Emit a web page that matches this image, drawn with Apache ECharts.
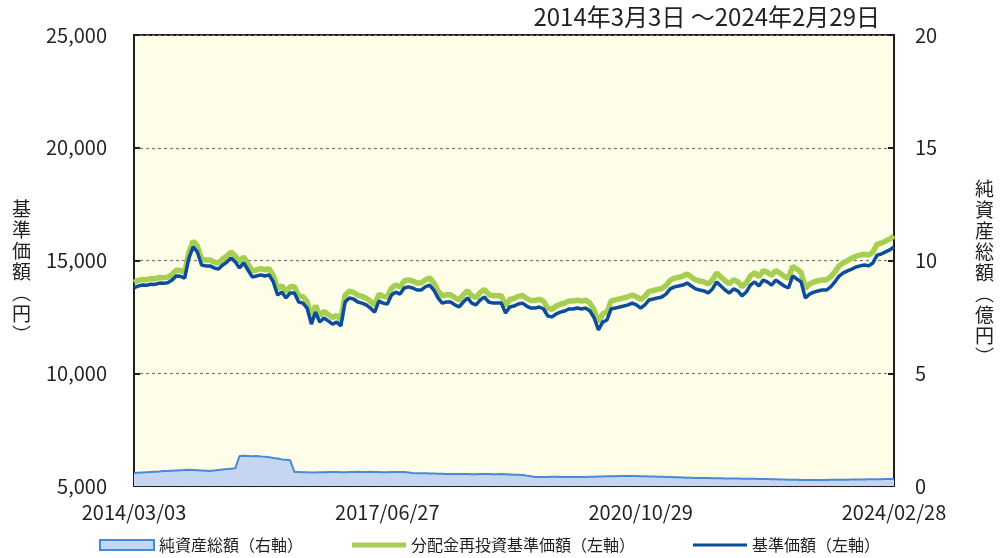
<!DOCTYPE html>
<html><head><meta charset="utf-8">
<script src="https://cdn.jsdelivr.net/npm/echarts@6/dist/echarts.min.js"></script>
<style>html,body{margin:0;padding:0;background:#fff}#c{width:1006px;height:558px}</style>
</head><body><div id="c"></div>
<script>
var tickLabels = ['2014/03/03','2017/06/27','2020/10/29','2024/02/28'];
var leftTicks = [5000,10000,15000,20000,25000];
var rightTicks = [0,5,10,15,20];
var seriesNames = ['純資産総額（右軸）','分配金再投資基準価額（左軸）','基準価額（左軸）'];
var titleText = '2014年3月3日 ～2024年2月29日';

var nav = [
13780,13870,13910,13900,13950,13940,14000,13990,14010,14130,
14310,14300,14220,15110,15600,15380,14800,14760,14760,14670,
14620,14800,14930,15110,14930,14670,14890,14580,14270,14310,
14360,14310,14360,14050,13470,13600,13340,13560,13560,13160,
13110,12890,12180,12710,12270,12450,12320,12180,12270,12100,
13160,13340,13290,13160,13110,13030,12890,12710,13200,13110,
13070,13470,13600,13510,13780,13830,13780,13690,13690,13830,
13910,13690,13340,13110,13160,13160,13030,12940,13160,13340,
13110,13030,13250,13380,13160,13110,13110,13110,12670,12940,
12980,13070,13110,12980,12890,12890,12940,12850,12540,12500,
12630,12710,12760,12850,12850,12890,12850,12890,12760,12450,
11920,12270,12360,12850,12890,12940,12980,13030,13110,13030,
12890,13030,13250,13290,13340,13380,13510,13740,13830,13870,
13910,14000,13870,13740,13690,13650,13560,13740,14050,13870,
13690,13560,13740,13650,13430,13600,13910,14050,13870,14130,
14050,13910,14130,14000,13870,13780,14310,14180,14050,13340,
13510,13600,13650,13690,13690,13830,14050,14310,14450,14540,
14620,14710,14760,14800,14760,14890,15240,15290,15380,15470,
15600];

var navReinv = [
14030,14120,14160,14150,14200,14190,14250,14240,14260,14380,
14570,14560,14480,15370,15860,15640,15060,15020,15020,14930,
14890,15070,15200,15380,15200,14940,15160,14850,14540,14580,
14640,14590,14640,14330,13750,13880,13620,13840,13840,13440,
13400,13180,12470,13000,12560,12740,12610,12470,12560,12390,
13460,13640,13590,13460,13410,13330,13190,13010,13500,13410,
13380,13780,13910,13820,14090,14140,14090,14000,14000,14140,
14230,14010,13660,13430,13480,13480,13350,13260,13480,13660,
13440,13360,13580,13710,13490,13440,13440,13440,13000,13270,
13320,13410,13450,13320,13230,13230,13280,13190,12880,12840,
12980,13060,13110,13200,13200,13240,13200,13240,13110,12800,
12280,12630,12720,13210,13250,13300,13340,13390,13470,13390,
13270,13410,13630,13670,13720,13760,13890,14120,14210,14250,
14310,14400,14270,14140,14090,14050,13960,14140,14450,14270,
14100,13970,14150,14060,13840,14010,14320,14460,14280,14540,
14480,14340,14560,14430,14300,14210,14740,14610,14480,13770,
13960,14050,14100,14140,14140,14280,14500,14760,14900,14990,
15100,15190,15240,15280,15240,15370,15720,15770,15860,15950,
16090];

var netAssets = [
0.58,0.59,0.60,0.61,0.62,0.63,0.64,0.66,0.67,0.68,
0.69,0.70,0.71,0.72,0.71,0.70,0.69,0.68,0.67,0.69,
0.71,0.73,0.75,0.77,0.79,1.33,1.34,1.33,1.32,1.33,
1.31,1.30,1.28,1.24,1.22,1.18,1.16,1.14,
0.62,0.62,0.61,0.61,0.60,0.60,0.61,0.61,0.62,0.62,0.62,0.61,
0.61,0.62,0.62,0.63,0.62,0.62,0.63,0.62,0.62,0.61,0.61,0.62,0.62,0.62,
0.62,0.60,0.58,0.57,0.56,0.56,0.55,0.55,0.54,0.54,
0.53,0.53,0.53,0.53,0.53,0.53,0.52,0.52,0.53,0.53,0.53,0.52,0.52,0.53,
0.52,0.51,0.50,0.50,0.49,0.46,0.43,
0.40,0.40,0.40,0.40,0.41,0.41,0.40,0.40,0.40,0.40,0.40,0.40,0.40,
0.41,0.41,0.42,0.42,0.43,0.43,0.43,0.44,0.44,0.44,0.44,0.44,
0.43,0.43,0.42,0.42,0.41,0.41,0.40,0.40,0.39,0.39,0.38,0.37,0.37,0.36,0.35,
0.35,0.35,0.34,0.34,0.34,0.33,0.33,0.33,0.33,0.32,0.32,0.32,0.32,0.31,0.31,0.31,
0.30,0.30,0.29,0.29,0.28,0.28,0.28,0.27,0.27,0.27,
0.27,0.27,0.27,0.27,0.28,0.28,0.28,0.28,0.28,0.29,
0.29,0.29,0.29,0.30,0.30,0.30,0.30,0.31,0.31,0.31];

var labelStep = (nav.length - 1) / (tickLabels.length - 1);
var categories = nav.map(function (v, i) {
  return (i % labelStep === 0) ? tickLabels[i / labelStep] : String(i);
});

var FONT = '"Noto Sans CJK JP", "Noto Sans", sans-serif';
var TXT = '#231f20';
var legendText = {fontFamily: FONT, fontSize: 16, color: TXT};
function mkLegend(left, name, h, style) {
  return {left: left, top: 537, itemWidth: 54, itemHeight: h, padding: 0,
          textStyle: legendText, data: [{name: name, icon: 'rect', itemStyle: style}]};
}
var chart = echarts.init(document.getElementById('c'), null, {renderer: 'canvas'});
chart.setOption({
  animation: false,
  backgroundColor: '#ffffff',
  textStyle: {fontFamily: FONT},
  grid: {left: 134, right: 112, top: 35, bottom: 72, show: true,
         backgroundColor: '#FEFDE8', borderColor: TXT, borderWidth: 2, containLabel: false},
  title: {text: titleText, right: 121, top: 0,
          textStyle: {fontFamily: FONT, fontSize: 24, fontWeight: 'normal', color: TXT}},
  legend: [
    mkLegend(99, seriesNames[0], 10, {color: '#C5D7F0', borderColor: '#4A89D6', borderWidth: 2}),
    mkLegend(352, seriesNames[1], 5, {color: '#A6CE52', borderWidth: 0}),
    mkLegend(693, seriesNames[2], 3, {color: '#0B4C9C', borderWidth: 0})
  ],
  xAxis: {
    type: 'category', data: categories, boundaryGap: false,
    axisLine: {lineStyle: {color: TXT, width: 2}},
    axisTick: {inside: true, length: 6, lineStyle: {color: TXT, width: 2},
               interval: function (i) { return i % labelStep === 0; }},
    axisLabel: {interval: function (i) { return i % labelStep === 0; }, margin: 16,
                fontFamily: FONT, fontSize: 20, color: TXT},
    splitLine: {show: false}
  },
  yAxis: [
    {type: 'value', min: leftTicks[0], max: leftTicks[leftTicks.length - 1], interval: 5000,
     axisLine: {show: true, lineStyle: {color: TXT, width: 2}},
     axisTick: {show: true, inside: true, length: 6, lineStyle: {color: TXT, width: 2}},
     axisLabel: {margin: 27, fontFamily: FONT, fontSize: 20, color: TXT,
                 formatter: function (v) { return v.toLocaleString('en-US'); }},
     splitLine: {show: true, lineStyle: {color: '#777', type: [3, 3], width: 1.2}}},
    {type: 'value', min: rightTicks[0], max: rightTicks[rightTicks.length - 1], interval: 5,
     position: 'right',
     axisLine: {show: true, lineStyle: {color: TXT, width: 2}},
     axisTick: {show: true, inside: true, length: 6, lineStyle: {color: TXT, width: 2}},
     axisLabel: {margin: 21, fontFamily: FONT, fontSize: 20, color: TXT},
     splitLine: {show: false}}
  ],
  graphic: [
    {type: 'text', left: 12, top: 198,
     style: {text: '基\n準\n価\n額\n︵\n円\n︶', font: '19px ' + FONT, fill: TXT, lineHeight: 21, align: 'center'}},
    {type: 'text', left: 975, top: 178,
     style: {text: '純\n資\n産\n総\n額\n︵\n億\n円\n︶', font: '19px ' + FONT, fill: TXT, lineHeight: 21, align: 'center'}}
  ],
  series: [
    {name: seriesNames[0], type: 'line', yAxisIndex: 1, data: netAssets, symbol: 'none',
     lineStyle: {color: '#4A89D6', width: 2}, itemStyle: {color: '#4A89D6'},
     areaStyle: {color: '#C5D7F0', opacity: 1}, z: 1},
    {name: seriesNames[1], type: 'line', yAxisIndex: 0, data: navReinv, symbol: 'none',
     lineStyle: {color: '#A6CE52', width: 5.5}, itemStyle: {color: '#A6CE52'}, z: 2},
    {name: seriesNames[2], type: 'line', yAxisIndex: 0, data: nav, symbol: 'none',
     lineStyle: {color: '#0B4C9C', width: 3.5}, itemStyle: {color: '#0B4C9C'}, z: 3}
  ]
});
</script></body></html>
